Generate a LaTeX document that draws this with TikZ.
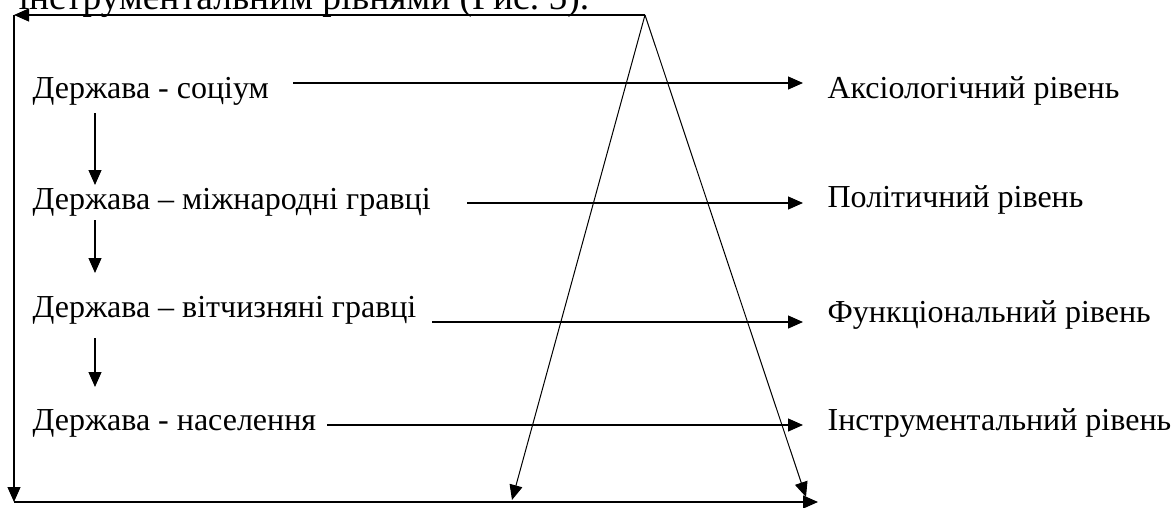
\documentclass[tikz,border=0pt]{standalone}
\usepackage{fontspec}
\setmainfont{Liberation Serif}
\usetikzlibrary{arrows.meta, positioning}

\begin{document}
\begin{tikzpicture}[
  x=1pt, y=-1pt,
  line width=1.2pt,
  >={Triangle[length=15pt,width=13pt]},
  lbl/.style={inner sep=0pt, anchor=base west, font=\fontsize{32}{38}\selectfont}]

  \useasboundingbox (0,0) rectangle (1173,507);

  % line of the text above, cut by the page edge
  \node[lbl, font=\fontsize{37.5}{44}\selectfont] (cap) at (18,9) {інструментальним рівнями (Рис.~5).};

  % frame and triangle
  \coordinate (apex) at (645,15);
  \coordinate (tl) at (14,15);
  \coordinate (bl) at (14,502);
  \coordinate (br) at (818,502);
  \coordinate (legl) at (512,500);
  \coordinate (legr) at (806,497);

  \draw[->] (apex) -- (tl);
  \draw[->] (tl) -- (bl);
  \draw[->] (bl) -- (br);
  \draw[->, line width=1pt] (apex) -- (legl);
  \draw[->, line width=1pt] (apex) -- (legr);

  % left column
  \node[lbl] (soc) at (32,98) {Держава - соціум};
  \node[lbl] (mizh) at (32,209) {Держава – міжнародні гравці};
  \node[lbl] (vitch) at (32,317) {Держава – вітчизняні гравці};
  \node[lbl] (nas) at (32,430) {Держава - населення};

  % right column
  \node[lbl] (aks) at (827,98) {Аксіологічний рівень};
  \node[lbl] (pol) at (827,207) {Політичний рівень};
  \node[lbl] (fun) at (827,322) {Функціональний рівень};
  \node[lbl] (instr) at (827,430) {Інструментальний рівень};

  % row arrows
  \coordinate (soc-a) at (293,83);   \coordinate (aks-a) at (803,83);
  \coordinate (mizh-a) at (467,203); \coordinate (pol-a) at (803,203);
  \coordinate (vitch-a) at (432,322);\coordinate (fun-a) at (803,322);
  \coordinate (nas-a) at (327,425);  \coordinate (instr-a) at (803,425);

  \draw[->] (soc-a) -- (aks-a);
  \draw[->] (mizh-a) -- (pol-a);
  \draw[->] (vitch-a) -- (fun-a);
  \draw[->] (nas-a) -- (instr-a);

  % down arrows between the left labels
  \coordinate (d1) at (95,113); \coordinate (d1e) at (95,185);
  \coordinate (d2) at (95,220); \coordinate (d2e) at (95,273);
  \coordinate (d3) at (95,338); \coordinate (d3e) at (95,387);

  \draw[->] (d1) -- (d1e);
  \draw[->] (d2) -- (d2e);
  \draw[->] (d3) -- (d3e);
\end{tikzpicture}
\end{document}
